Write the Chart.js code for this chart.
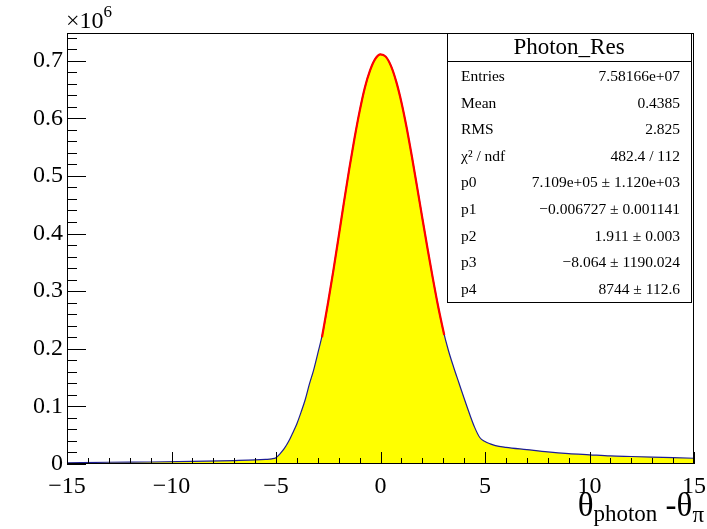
<!DOCTYPE html>
<html>
<head>
<meta charset="utf-8">
<script src="https://cdn.jsdelivr.net/npm/chart.js@4.4.0/dist/chart.umd.min.js"></script>
<style>
  html, body { margin: 0; padding: 0; background: #fff; }
  #wrap { width: 707px; height: 529px; }
</style>
</head>
<body>
<div id="wrap"><canvas id="c" width="707" height="529"></canvas></div>
<script>
// Photon angular resolution: histogram contents (bin centre, entries per bin)
const binCentres = [-15, -13, -11, -9, -7, -6, -5.5, -5.2, -5.0, -4.8, -4.6, -4.4, -4.2, -4.0,
  -3.8, -3.6, -3.4, -3.2, -3.0, -2.75, -2.5, -2.25, -2.0, -1.75, -1.5, -1.25, -1.0, -0.75,
  -0.5, -0.25, 0, 0.25, 0.5, 0.75, 1.0, 1.25, 1.5, 1.75, 2.0, 2.25, 2.5, 2.75, 3.0, 3.25,
  3.5, 3.75, 4.0, 4.25, 4.5, 4.75, 5.0, 5.25, 5.5, 6, 7, 8, 9, 10, 11, 12, 13, 14, 15];
const binCounts = [2000, 3000, 3500, 4500, 6000, 7000, 8000, 9000, 11000, 18000, 27000, 39000,
  54000, 70000, 90000, 112000, 139000, 163000, 192000, 230000, 282000, 337000, 395000,
  454000, 511000, 564000, 612000, 653000, 683000, 703000, 711000, 707000, 691000, 664000,
  628000, 584000, 534000, 481000, 427000, 374000, 323000, 275000, 232000, 197000, 168000,
  141000, 114000, 88000, 64000, 46000, 39000, 35000, 32000, 29000, 25000, 21000, 18000,
  16000, 14000, 13000, 12000, 11000, 10000];

// Fitted curve over the core of the peak
const fitX = [-2.8, -2.5, -2.25, -2.0, -1.75, -1.5, -1.25, -1.0, -0.75, -0.5, -0.25, 0,
  0.25, 0.5, 0.75, 1.0, 1.25, 1.5, 1.75, 2.0, 2.25, 2.5, 2.75, 3.0, 3.05];
const fitY = [220000, 282000, 337000, 395000, 454000, 511000, 564000, 612000, 653000, 683000,
  703000, 711000, 707000, 691000, 664000, 628000, 584000, 534000, 481000, 427000, 374000,
  323000, 275000, 232000, 224000];

// Axis ticks
const xTickValues = [-15, -10, -5, 0, 5, 10, 15];
const yTickValues = [0, 100000, 200000, 300000, 400000, 500000, 600000, 700000];

// Statistics box
const statsTitle = 'Photon_Res';
const statsLabels = ['Entries', 'Mean', 'RMS', 'χ² / ndf', 'p0', 'p1', 'p2', 'p3', 'p4'];
const statsValues = ['7.58166e+07', '0.4385', '2.825', '482.4 / 112',
  '7.109e+05 ± 1.120e+03', '−0.006727 ± 0.001141', '1.911 ± 0.003',
  '−8.064 ± 1190.024', '8744 ± 112.6'];

const SERIF = '"Liberation Serif", "DejaVu Serif", serif';

function fmtX(v) {
  return v < 0 ? '\u2212' + Math.abs(v) : String(v);
}
function fmtY(v) {
  if (v === 0) return '0';
  return (v / 1e6).toFixed(1);
}

// Frame, inward ticks, stats box and axis annotations in ROOT style
const rootStyle = {
  id: 'rootStyle',
  afterDatasetsDraw(chart) {
    const { ctx, chartArea: a, scales } = chart;
    const x = scales.x, y = scales.y;
    ctx.save();
    ctx.strokeStyle = '#000';
    ctx.lineWidth = 1;

    ctx.beginPath();
    for (let v = -15; v <= 15; v += 1) {
      const px = Math.round(x.getPixelForValue(v)) + 0.5;
      const len = (v % 5 === 0) ? 12 : 6;
      ctx.moveTo(px, a.bottom);
      ctx.lineTo(px, a.bottom - len);
    }
    for (let v = 0; v <= y.max; v += 20000) {
      const py = Math.round(y.getPixelForValue(v)) + 0.5;
      const len = (v % 100000 === 0) ? 19 : 10;
      ctx.moveTo(a.left, py);
      ctx.lineTo(a.left + len, py);
    }
    ctx.stroke();

    ctx.strokeRect(a.left + 0.5, a.top + 0.5, a.right - a.left - 1, a.bottom - a.top - 1);

    // statistics box
    const bx = 447, by = a.top, bw = 244, bh = 269;
    ctx.fillStyle = '#fff';
    ctx.fillRect(bx, by, bw, bh);
    ctx.strokeRect(bx + 0.5, by + 0.5, bw, bh);
    ctx.beginPath();
    ctx.moveTo(bx, 61.5);
    ctx.lineTo(bx + bw, 61.5);
    ctx.stroke();

    ctx.fillStyle = '#000';
    ctx.textBaseline = 'middle';
    ctx.textAlign = 'center';
    ctx.font = '23px ' + SERIF;
    ctx.fillText(statsTitle, bx + bw / 2, 48);

    ctx.font = '15.5px ' + SERIF;
    for (let i = 0; i < statsLabels.length; i++) {
      const ry = 77 + i * 26.6;
      ctx.textAlign = 'left';
      ctx.fillText(statsLabels[i], 461, ry);
      ctx.textAlign = 'right';
      ctx.fillText(statsValues[i], 680, ry);
    }

    // exponent of the y axis
    ctx.textBaseline = 'alphabetic';
    ctx.textAlign = 'left';
    ctx.font = '24px ' + SERIF;
    ctx.fillText('\u00d710', 66, 28);
    const w10 = ctx.measureText('\u00d710').width;
    ctx.font = '17px ' + SERIF;
    ctx.fillText('6', 66 + w10, 17);

    // x axis title: theta_photon - theta_pi, right aligned
    const parts = [
      { t: '\u03b8', f: 33, b: 516 },
      { t: 'photon', f: 23, b: 521 },
      { t: ' -\u03b8', f: 33, b: 516 },
      { t: '\u03c0', f: 23, b: 522 }
    ];
    let total = 0;
    for (const p of parts) {
      ctx.font = p.f + 'px ' + SERIF;
      p.w = ctx.measureText(p.t).width;
      total += p.w;
    }
    let cx = 704 - total;
    for (const p of parts) {
      ctx.font = p.f + 'px ' + SERIF;
      ctx.fillText(p.t, cx, p.b);
      cx += p.w;
    }
    ctx.restore();
  }
};

const histPoints = binCentres.map((c, i) => ({ x: c, y: binCounts[i] }));
const fitPoints = fitX.map((c, i) => ({ x: c, y: fitY[i] }));

new Chart(document.getElementById('c'), {
  type: 'line',
  data: {
    datasets: [
      {
        label: 'fit',
        data: fitPoints,
        borderColor: '#ff0000',
        borderWidth: 2.2,
        pointRadius: 0,
        fill: false,
        cubicInterpolationMode: 'monotone',
        order: 0
      },
      {
        label: 'Photon_Res',
        data: histPoints,
        borderColor: '#1c1c96',
        borderWidth: 1.2,
        backgroundColor: '#ffff00',
        pointRadius: 0,
        fill: 'origin',
        cubicInterpolationMode: 'monotone',
        order: 1
      }
    ]
  },
  options: {
    responsive: false,
    animation: false,
    devicePixelRatio: 1,
    layout: { padding: { top: 33, right: 13, left: 0, bottom: 0 } },
    plugins: { legend: { display: false }, tooltip: { enabled: false } },
    scales: {
      x: {
        type: 'linear',
        min: -15,
        max: 15,
        grid: { display: false, drawTicks: false },
        border: { display: false },
        afterBuildTicks(s) { s.ticks = xTickValues.map(v => ({ value: v })); },
        afterFit(s) { s.height = 65; s.paddingLeft = 0; s.paddingRight = 0; },
        ticks: {
          color: '#000',
          padding: 8,
          maxRotation: 0,
          autoSkip: false,
          font: { family: SERIF, size: 24 },
          callback: v => fmtX(v)
        }
      },
      y: {
        min: 0,
        max: 748000,
        grid: { display: false, drawTicks: false },
        border: { display: false },
        afterBuildTicks(s) { s.ticks = yTickValues.map(v => ({ value: v })); },
        afterFit(s) { s.width = 67; s.paddingTop = 0; s.paddingBottom = 0; },
        ticks: {
          color: '#000',
          padding: 4,
          autoSkip: false,
          font: { family: SERIF, size: 24 },
          callback: v => fmtY(v)
        }
      }
    }
  },
  plugins: [rootStyle]
});
</script>
</body>
</html>
